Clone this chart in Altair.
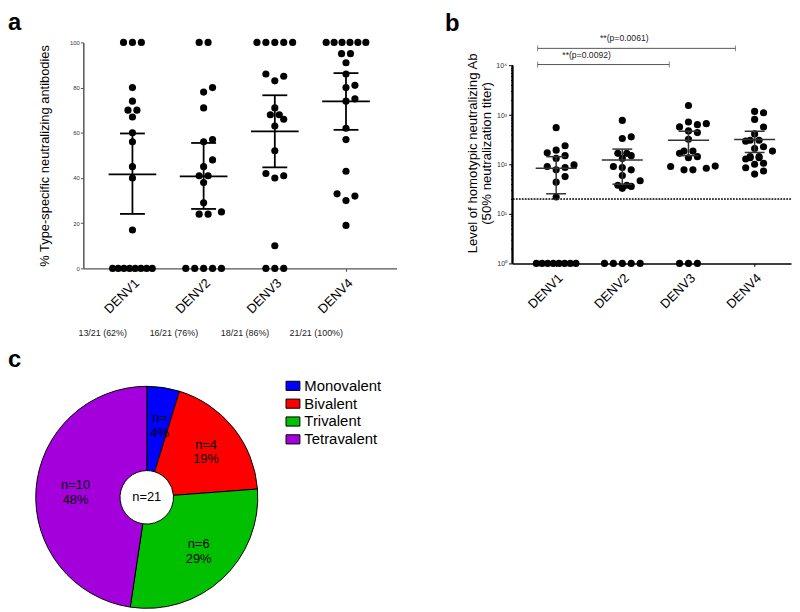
import altair as alt
import pandas as pd
import math
from collections import defaultdict

FONT = "Liberation Sans"

# ---------------- data ----------------
groups = ["DENV1", "DENV2", "DENV3", "DENV4"]

# panel a: % type-specific neutralizing antibodies
pct_denv1 = [100, 100, 100, 80, 74, 70, 70, 67, 60, 56, 45, 40, 17, 0, 0, 0, 0, 0, 0, 0, 0]
pct_denv2 = [100, 100, 80, 78, 71, 57, 56, 48, 45, 41, 41, 38, 29, 25, 24, 24, 0, 0, 0, 0, 0]
pct_denv3 = [100, 100, 100, 100, 100, 86, 85, 83, 71, 68, 68, 66, 63, 52, 42, 41, 40, 10, 0, 0, 0]
pct_denv4 = [100, 100, 100, 100, 100, 100, 95, 95, 91, 86, 81, 80, 75, 74, 62, 57, 43, 33, 32, 30, 19]
pct_mean = [41.6, 40.7, 60.6, 73.9]
pct_lo = [24.1, 26.3, 44.7, 61.3]
pct_hi = [59.7, 55.5, 76.6, 86.4]
ratio_text = ["13/21 (62%)", "16/21 (76%)", "18/21 (86%)", "21/21 (100%)"]

# panel b: 50% neutralization titer (0 = undetectable, drawn at 10^0)
titer_denv1 = [556, 239, 195, 173, 151, 133, 98, 91, 87, 78, 57, 44, 22, 0, 0, 0, 0, 0, 0, 0, 0]
titer_denv2 = [780, 362, 335, 168, 168, 151, 133, 91, 87, 78, 60, 47, 38, 38, 36, 33, 0, 0, 0, 0, 0]
titer_denv3 = [1560, 723, 670, 640, 575, 478, 442, 324, 187, 187, 168, 144, 137, 93, 91, 84, 78, 78, 0, 0, 0]
titer_denv4 = [1183, 1112, 817, 574, 416, 310, 310, 296, 228, 211, 187, 144, 144, 137, 137, 129, 106, 101, 86, 74, 64]
titer_gmean = [84, 123, 310, 320]
titer_lo = [25.6, 40, 151, 175]
titer_hi = [144, 205, 470, 470]
threshold = 20
sig_from = [1, 1]
sig_to = [4, 3]
sig_label = ["**(p=0.0061)", "**(p=0.0092)"]

# panel c: pie
pie_labels = ["Monovalent", "Bivalent", "Trivalent", "Tetravalent"]
pie_counts = [1, 4, 6, 10]
pie_n_text = ["n=", "n=4", "n=6", "n=10"]
pie_pct_text = ["4%", "19%", "29%", "48%"]
pie_colors = ["#0000FF", "#FF0000", "#00C000", "#A400DC"]
pie_total = "n=21"

# ---------------- layout constants ----------------
A_W, A_H = 316, 228
A_XMIN, A_XMAX = 0.31, 4.71
A_PPX = A_W / (A_XMAX - A_XMIN)
A_PPY = A_H / 100.0

B_W, B_H = 281, 223
B_XMIN, B_XMAX = 0.34, 4.55
B_PPX = B_W / (B_XMAX - B_XMIN)
B_PPDEC = 49.9
B_YTOP = 10 ** (B_H / B_PPDEC)
BRACKET_Y = [22300, 10500]

DOT = 52
LETTER = dict(anchor="start", frame="group", fontSize=24, fontWeight="bold", font=FONT, color="black")


def swarm(vals, to_px, step=9.0, d=7.6, maxw=40.0):
    ys = [to_px(v) for v in vals]
    ties = defaultdict(list)
    for i in sorted(range(len(vals)), key=lambda k: ys[k]):
        ties[round(ys[i], 6)].append(i)
    offs = [0.0] * len(vals)
    placed = []
    for y in sorted(ties):
        idxs = ties[y]
        n = len(idxs)
        if n > 1:
            sp = min(step, maxw / (n - 1))
            for k, i in enumerate(idxs):
                offs[i] = (k - (n - 1) / 2) * sp
                placed.append((offs[i], y))
        else:
            i = idxs[0]
            cands = [0.0]
            for k in range(1, 8):
                cands += [k * step, -k * step]
            for c in cands:
                if all((c - px) ** 2 + (y - py) ** 2 >= d * d for px, py in placed):
                    break
            offs[i] = c
            placed.append((c, y))
    return offs


# ---------------- panel a ----------------
rows = []
for gi, vals in enumerate([pct_denv1, pct_denv2, pct_denv3, pct_denv4]):
    offs = swarm(vals, lambda v: v * A_PPY)
    for v, o in zip(vals, offs):
        rows.append({"group": groups[gi], "pos": gi + 1 + o / A_PPX, "value": v})
a_pts = pd.DataFrame(rows)
a_sum = pd.DataFrame({"group": groups, "pos": [1, 2, 3, 4], "mean": pct_mean,
                      "lo": pct_lo, "hi": pct_hi, "ratio": ratio_text})

label_expr = "[''," + ",".join("'%s'" % g for g in groups) + "][round(datum.value)]"

ax_a_x = alt.Axis(values=[1, 2, 3, 4], labelExpr=label_expr, labelAngle=-45, labelFontSize=13,
                  labelFont=FONT, labelColor="black", labelPadding=5, tickSize=3, tickColor="#555",
                  domainColor="#555", domainWidth=1.5, grid=False, title=None)
ax_a_y = alt.Axis(values=list(range(0, 101, 10)), labelFontSize=6, labelFont=FONT, labelColor="#333",
                  tickSize=3, tickColor="#555", labelPadding=1, domainColor="#555", domainWidth=1.5,
                  grid=False, labelOverlap=False, title="% Type-specific neutralizing antibodies",
                  titleFontSize=13, titleFont=FONT, titleFontWeight="normal", titleColor="black",
                  titlePadding=18)
sx_a = alt.Scale(domain=[A_XMIN, A_XMAX], nice=False, zero=False)
sy_a = alt.Scale(domain=[0, 100], nice=False)

a_dots = alt.Chart(a_pts).mark_circle(size=DOT, color="black", opacity=1).encode(
    x=alt.X("pos:Q", scale=sx_a, axis=ax_a_x),
    y=alt.Y("value:Q", scale=sy_a, axis=ax_a_y))
a_mean = alt.Chart(a_sum).transform_calculate(
    x1="datum.pos - 0.335", x2="datum.pos + 0.335").mark_rule(color="black", strokeWidth=1.8).encode(
    x="x1:Q", x2="x2:Q", y="mean:Q")
a_err = alt.Chart(a_sum).mark_rule(color="black", strokeWidth=1.8).encode(
    x="pos:Q", y="lo:Q", y2="hi:Q")
a_caps = alt.Chart(a_sum).transform_fold(["lo", "hi"], as_=["k", "v"]).transform_calculate(
    x1="datum.pos - 0.175", x2="datum.pos + 0.175").mark_rule(color="black", strokeWidth=1.8).encode(
    x="x1:Q", x2="x2:Q", y="v:Q")
a_ratio = alt.Chart(a_sum).mark_text(fontSize=9, font=FONT, color="#222", dy=65, dx=-30).encode(
    x="pos:Q", y=alt.datum(0), text="ratio:N")

panel_a = alt.layer(a_dots, a_err, a_mean, a_caps, a_ratio).properties(width=A_W, height=A_H)

# blank column that carries the letter "a" and lines panel a up with the pie below
spacer = alt.Chart(pd.DataFrame({"v": [0.5]})).mark_point(opacity=0).encode(
    x=alt.X("v:Q", axis=None, scale=alt.Scale(domain=[0, 1])),
    y=alt.Y("v:Q", axis=None, scale=alt.Scale(domain=[0, 1]))).properties(
    width=1, height=A_H, title=alt.Title("a", dx=-28, offset=8, **LETTER))

# ---------------- panel b ----------------
rows = []
for gi, vals in enumerate([titer_denv1, titer_denv2, titer_denv3, titer_denv4]):
    plot_vals = [v if v > 0 else 1 for v in vals]
    offs = swarm(plot_vals, lambda v: math.log10(v) * B_PPDEC)
    for v, o in zip(plot_vals, offs):
        rows.append({"group": groups[gi], "pos": gi + 1 + o / B_PPX, "value": v})
b_pts = pd.DataFrame(rows)
b_sum = pd.DataFrame({"group": groups, "pos": [1, 2, 3, 4], "mean": titer_gmean,
                      "lo": titer_lo, "hi": titer_hi})
b_sig = pd.DataFrame({"x1": [f - 0.28 for f in sig_from], "x2": [t - 0.29 for t in sig_to],
                      "y": BRACKET_Y, "label": sig_label,
                      "tx": [(f + t) / 2 - 0.5 + (0.03 if t == 4 else -0.04) for f, t in zip(sig_from, sig_to)]})
b_ends = pd.DataFrame({"x": list(b_sig["x1"]) + list(b_sig["x2"]), "y": BRACKET_Y + BRACKET_Y})

yt_vals = []
for dec in range(4):
    yt_vals += [k * 10 ** dec for k in range(1, 10)]
yt_vals.append(10000)
is_pow = "abs(log(datum.value)/LN10 - round(log(datum.value)/LN10)) < 0.001"
sup = "['\u2070','\u00b9','\u00b2','\u00b3','\u2074']"
ax_b_y = alt.Axis(values=yt_vals,
                  labelExpr=f"{is_pow} ? '10' + {sup}[round(log(datum.value)/LN10)] : ''",
                  labelFontSize=7, labelFont=FONT, labelColor="#333", labelPadding=2,
                  labelOverlap=False,
                  tickSize={"condition": {"test": is_pow, "value": 4}, "value": 2},
                  tickColor="black", domain=False, grid=False,
                  title=["Level of homotypic neutralizing Ab", "(50% neutralization titer)"],
                  titleFontSize=13.3, titleFont=FONT, titleFontWeight="normal", titleColor="black",
                  titlePadding=2, titleLineHeight=15)
ax_b_x = alt.Axis(values=[1, 2, 3, 4], labelExpr=label_expr, labelAngle=-45, labelFontSize=13,
                  labelFont=FONT, labelColor="black", labelPadding=5, tickSize=3, tickColor="black",
                  domainColor="black", domainWidth=1.5, grid=False, title=None)
sx_b = alt.Scale(domain=[B_XMIN, B_XMAX], nice=False, zero=False)
sy_b = alt.Scale(type="log", domain=[1, B_YTOP], nice=False)

b_dots = alt.Chart(b_pts).mark_circle(size=DOT, color="black", opacity=1).encode(
    x=alt.X("pos:Q", scale=sx_b, axis=ax_b_x),
    y=alt.Y("value:Q", scale=sy_b, axis=ax_b_y))
b_axisline = alt.Chart(b_sum).mark_rule(color="black", strokeWidth=1.5).encode(
    x=alt.datum(B_XMIN), y=alt.datum(1), y2=alt.datum(10000))
b_thr = alt.Chart(b_sum).mark_rule(color="#333", strokeWidth=1, strokeDash=[1.5, 1.5]).encode(
    y=alt.datum(threshold))
b_mean = alt.Chart(b_sum).transform_calculate(
    x1="datum.pos - 0.31", x2="datum.pos + 0.31").mark_rule(color="#333", strokeWidth=1.5).encode(
    x="x1:Q", x2="x2:Q", y="mean:Q")
b_err = alt.Chart(b_sum).mark_rule(color="#333", strokeWidth=1.5).encode(
    x="pos:Q", y="lo:Q", y2="hi:Q")
b_caps = alt.Chart(b_sum).transform_fold(["lo", "hi"], as_=["k", "v"]).transform_calculate(
    x1="datum.pos - 0.15", x2="datum.pos + 0.15").mark_rule(color="#333", strokeWidth=1.5).encode(
    x="x1:Q", x2="x2:Q", y="v:Q")
b_br = alt.Chart(b_sig).mark_rule(color="#555", strokeWidth=1).encode(
    x="x1:Q", x2="x2:Q", y="y:Q")
b_brends = alt.Chart(b_ends).mark_tick(orient="vertical", size=6, thickness=1, color="#555").encode(
    x="x:Q", y="y:Q")
b_brtext = alt.Chart(b_sig).mark_text(fontSize=8.7, font=FONT, color="#222", baseline="bottom", dy=-5).encode(
    x="tx:Q", y="y:Q", text="label:N")

panel_b = alt.layer(b_dots, b_thr, b_axisline, b_err, b_mean, b_caps, b_br, b_brends, b_brtext).properties(
    width=B_W, height=B_H, title=alt.Title("b", dx=-68, offset=-1, **LETTER))

# ---------------- panel c ----------------
pie_df = pd.DataFrame({"label": pie_labels, "count": pie_counts, "idx": [0, 1, 2, 3],
                       "txt": [n + "\n" + p for n, p in zip(pie_n_text, pie_pct_text)]})
base = alt.Chart(pie_df).encode(theta=alt.Theta("count:Q", stack=True), order=alt.Order("idx:Q"))
arcs = base.mark_arc(outerRadius=112, innerRadius=27, stroke="black", strokeWidth=1).encode(
    color=alt.Color("label:N", sort=pie_labels,
                    scale=alt.Scale(domain=pie_labels, range=pie_colors),
                    legend=alt.Legend(orient="none", legendX=252, legendY=-8, title=None,
                                      symbolType="M-1,-0.66L1,-0.66L1,0.66L-1,0.66Z", symbolSize=196,
                                      symbolStrokeColor="black", symbolStrokeWidth=1,
                                      symbolOpacity=1, labelFontSize=15, labelFont=FONT,
                                      labelColor="black", labelOffset=4, rowPadding=2)))
labels = base.mark_text(radius=74, fontSize=13, font=FONT, color="black", lineBreak="\n", dy=-7, dx=2).encode(
    text="txt:N")
center = alt.Chart(pd.DataFrame({"t": [pie_total]})).mark_text(
    radius=0, fontSize=13, font=FONT, color="black").encode(theta=alt.value(0), text="t:N")

panel_c = alt.layer(arcs, labels, center).properties(
    width=224, height=224, title=alt.Title("c", dx=-28, offset=7, **LETTER))

top = alt.hconcat(spacer, alt.hconcat(panel_a, panel_b, spacing=49), spacing=-2)
chart = alt.vconcat(top, panel_c, spacing=10).resolve_legend(color="independent").properties(
    padding=0).configure_view(stroke=None)

chart.save("out.html", embed_options={"renderer": "svg", "actions": False})
